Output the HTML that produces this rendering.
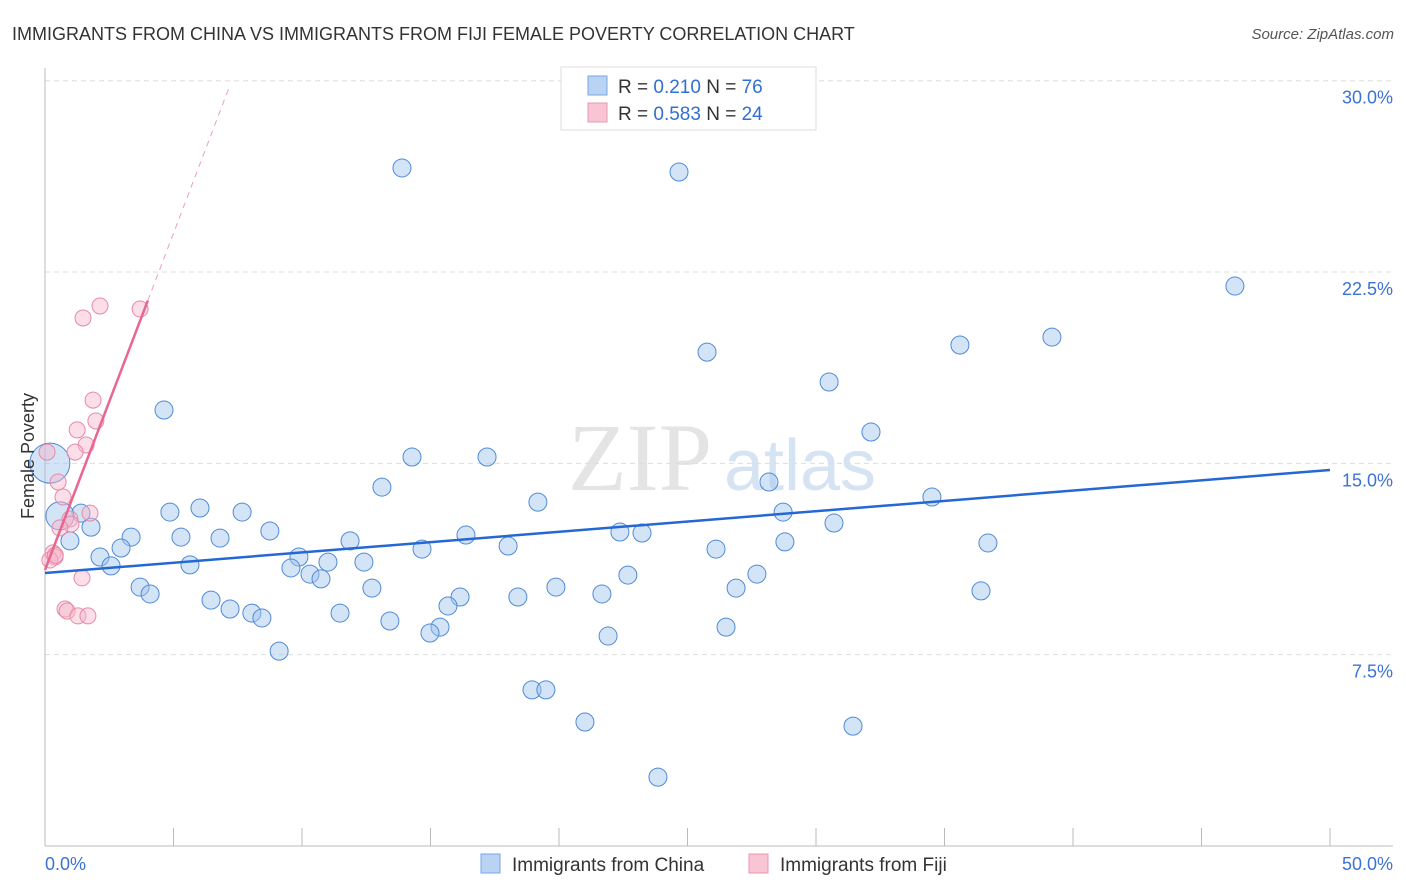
<!DOCTYPE html>
<html><head><meta charset="utf-8"><style>
body{margin:0;background:#fff;font-family:"Liberation Sans",sans-serif;}
svg{display:block}
</style></head><body>
<svg id="chart" width="1406" height="892">
<text x="12" y="40" font-size="18" fill="#333">IMMIGRANTS FROM CHINA VS IMMIGRANTS FROM FIJI FEMALE POVERTY CORRELATION CHART</text>
<text x="1394" y="39" font-size="15" fill="#555" font-style="italic" text-anchor="end">Source: ZipAtlas.com</text>
<text x="640" y="490" font-size="96" fill="#e4e4e4" font-family="Liberation Serif" text-anchor="middle">ZIP</text>
<text x="800" y="490" font-size="72" fill="#d6e3f3" text-anchor="middle">atlas</text>
<g id="grid"></g>
<g id="axes"></g>
<g id="pts"></g>
<g id="lines"></g>
<text x="34" y="456" font-size="18" fill="#333" text-anchor="middle" transform="rotate(-90 34 456)">Female Poverty</text>
<g>
<rect x="561" y="67" width="255" height="63" fill="#fff" stroke="#ddd"/>
<rect x="588" y="76" width="19" height="19" fill="#b8d3f4" stroke="#7aa6dc"/>
<rect x="588" y="103" width="19" height="19" fill="#f9c4d4" stroke="#e898b0"/>
<text x="618" y="93" font-size="19" fill="#333">R = <tspan fill="#2f6fd6">0.210</tspan>   N = <tspan fill="#2f6fd6">76</tspan></text>
<text x="618" y="120" font-size="19" fill="#333">R = <tspan fill="#2f6fd6">0.583</tspan>   N = <tspan fill="#2f6fd6">24</tspan></text>
</g>
<g>
<rect x="481" y="854" width="19" height="19" fill="#b8d3f4" stroke="#7aa6dc"/>
<text x="512" y="871" font-size="19" fill="#333">Immigrants from China</text>
<rect x="749" y="854" width="19" height="19" fill="#f9c4d4" stroke="#e898b0"/>
<text x="780" y="871" font-size="19" fill="#333">Immigrants from Fiji</text>
</g>
</svg>
<script>
const chinaX=[13.89,24.67,46.30,39.18,35.60,25.76,30.51,4.63,32.14,14.28,17.20,13.11,28.17,34.51,19.18,6.03,4.86,7.67,28.72,30.70,8.75,1.79,1.40,22.37,23.23,16.38,3.35,5.29,6.81,0.97,11.87,36.69,28.79,18.02,14.67,26.11,2.96,2.14,9.88,12.41,11.01,2.57,5.64,9.57,10.31,22.68,10.74,27.70,3.70,19.88,12.72,26.89,4.09,16.15,18.40,21.67,36.42,6.46,15.68,7.20,8.05,11.48,8.44,13.42,15.37,26.50,14.98,21.91,9.11,18.95,19.49,21.01,31.44,23.85,0.19,0.58];
const chinaY=[26.58,26.42,21.95,19.95,19.64,19.36,18.19,17.09,16.23,15.25,15.25,14.07,14.27,13.68,13.48,13.25,13.09,13.09,13.09,12.66,12.35,12.50,13.05,12.31,12.27,12.19,12.11,12.11,12.07,11.96,11.96,11.88,11.92,11.76,11.64,11.64,11.68,11.33,11.33,11.13,11.13,10.98,11.02,10.90,10.66,10.62,10.47,10.66,10.15,10.15,10.11,10.11,9.88,9.76,9.76,9.88,10.00,9.64,9.41,9.29,9.13,9.13,8.94,8.82,8.58,8.58,8.35,8.23,7.64,6.12,6.12,4.86,4.70,2.70,15.01,12.94];
const chinaR=[9,9,9,9,9,9,9,9,9,9,9,9,9,9,9,9,9,9,9,9,9,9,9,9,9,9,9,9,9,9,9,9,9,9,9,9,9,9,9,9,9,9,9,9,9,9,9,9,9,9,9,9,9,9,9,9,9,9,9,9,9,9,9,9,9,9,9,9,9,9,9,9,9,9,20,14];
const fijiX=[1.48,2.14,3.70,1.87,1.98,1.25,1.60,1.17,0.08,0.51,0.70,0.97,1.75,1.01,0.58,0.31,0.39,0.19,1.44,0.78,0.86,1.28,1.67,0.40];
const fijiY=[20.70,21.17,21.05,17.48,16.66,16.31,15.72,15.44,15.44,14.27,13.68,12.82,13.05,12.62,12.47,11.49,11.33,11.21,10.51,9.29,9.21,9.02,9.02,11.40];
const yTicks=[7.5,15,22.5,30];
const yTickLabels=["7.5%","15.0%","22.5%","30.0%"];
const xTicks=[0,5,10,15,20,25,30,35,40,45,50];
const chinaTrend=[10.70,14.74];
const fijiTrend=[10.82,2.64];
const X=v=>45+v*25.7, Y=v=>846-v*25.51;
const NS="http://www.w3.org/2000/svg";
function mk(tag,at,parent){const e=document.createElementNS(NS,tag);for(const k in at)e.setAttribute(k,at[k]);document.getElementById(parent).appendChild(e);return e;}
yTicks.forEach((t,i)=>{
 const g=mk('line',{x1:45,x2:1393,y1:Y(t),y2:Y(t),stroke:'#ddd','stroke-dasharray':'5,4'},'grid');
 
 
 const l=mk('text',{x:1393,y:Y(t)+23,'font-size':18,fill:'#3b72d4','text-anchor':'end'},'axes');
 l.textContent=yTickLabels[i];
 
 
});
const a1=mk('line',{x1:45,x2:45,y1:68,y2:846,stroke:'#bbb'},'axes');


const a2=mk('line',{x1:45,x2:1393,y1:846,y2:846,stroke:'#bbb'},'axes');


xTicks.forEach(t=>{
 const e=mk('line',{x1:X(t),x2:X(t),y1:828,y2:846,stroke:'#bbb'},'axes');
 
 
});
const xl=mk('text',{x:45,y:870,'font-size':18,fill:'#3b72d4'},'axes');xl.textContent=xTicks[0].toFixed(1)+'%';


const xr=mk('text',{x:1393,y:870,'font-size':18,fill:'#3b72d4','text-anchor':'end'},'axes');xr.textContent=xTicks[xTicks.length-1].toFixed(1)+'%';


chinaX.forEach((x,i)=>{
 const c=mk('circle',{cx:X(x),cy:Y(chinaY[i]),r:chinaR[i],fill:'rgba(160,196,238,0.45)',stroke:'#4f8ad8','stroke-width':1},'pts');
 
 
});
fijiX.forEach((x,i)=>{
 const c=mk('circle',{cx:X(x),cy:Y(fijiY[i]),r:8,fill:'rgba(246,182,202,0.45)',stroke:'#e68aa8','stroke-width':1},'pts');
 
 
});
const t1=mk('line',{x1:X(0),y1:Y(chinaTrend[0]),x2:X(50),y2:Y(chinaTrend[1]),stroke:'#2468d4','stroke-width':2.5},'lines');


const fy=x=>fijiTrend[0]+fijiTrend[1]*x;
const t2=mk('line',{x1:X(0),y1:Y(fy(0)),x2:X(4.0),y2:Y(fy(4.0)),stroke:'#e8668f','stroke-width':2.5},'lines');


const t3=mk('line',{x1:X(4.0),y1:Y(fy(4.0)),x2:X(7.2),y2:Y(fy(7.2)),stroke:'#eea0b8','stroke-width':1,'stroke-dasharray':'6,5'},'lines');


</script>
</body></html>
